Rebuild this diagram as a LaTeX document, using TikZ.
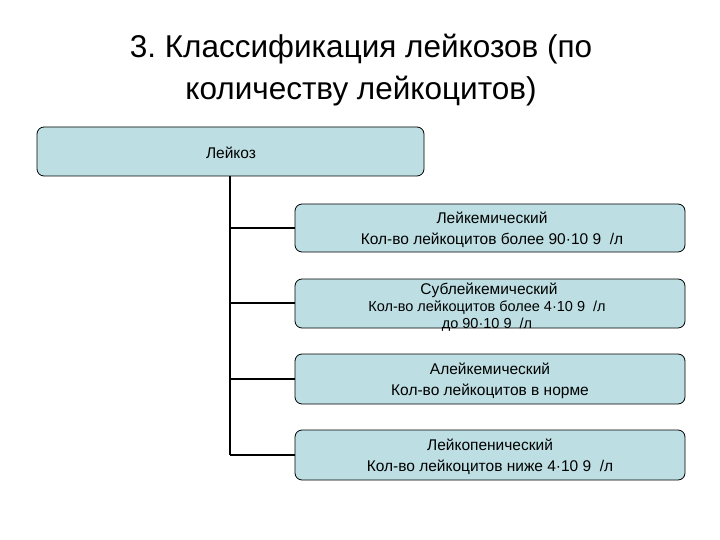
\documentclass[tikz,border=0pt]{standalone}
\usepackage{fontspec}
\setmainfont{Liberation Sans}
\frenchspacing
\begin{document}
\begin{tikzpicture}[x=1pt,y=-1pt,
  box/.style={draw=black,line width=0.8pt,fill=boxfill,rounded corners=7pt,inner sep=0pt},
  conn/.style={line width=1.6pt,black},
  lbl/.style={align=center,font=\fontsize{15.5}{21}\selectfont,inner sep=0pt}]
\definecolor{boxfill}{HTML}{BDDFE3}
\useasboundingbox (0,0) rectangle (720,540);
\node[font=\fontsize{31.5}{42}\selectfont,align=center,inner sep=0pt] (title) at (361,70)
  {3. Классификация лейкозов (по\\количеству лейкоцитов)};
\node[box,minimum width=387pt,minimum height=49pt] (top) at (230.5,151.5) {};
\node[lbl] (toptext) at (231,153) {Лейкоз};
\node[box,minimum width=390pt,minimum height=48pt] (b1) at (490,228) {};
\node[box,minimum width=390pt,minimum height=49pt] (b2) at (490,303.5) {};
\node[box,minimum width=390pt,minimum height=50pt] (b3) at (490,379) {};
\node[box,minimum width=390pt,minimum height=50pt] (b4) at (490,455) {};
\node[lbl] (t1) at (492,230) {Лейкемический\\Кол-во лейкоцитов более 90·10 9~~/л};
\node[lbl] (t2a) at (489,290) {Сублейкемический};
\node[align=center,font=\fontsize{14.5}{17}\selectfont,inner sep=0pt] (t2b) at (487,316)
  {Кол-во лейкоцитов более 4·10 9~~/л\\до 90·10 9~~/л};
\node[lbl] (t3) at (490,381) {Алейкемический\\Кол-во лейкоцитов в норме};
\node[lbl] (t4) at (490,457) {Лейкопенический\\Кол-во лейкоцитов ниже 4·10 9~~/л};
\coordinate (c1) at (230,228);
\coordinate (c2) at (230,303);
\coordinate (c3) at (230,379);
\coordinate (c4) at (230,455);
\draw[conn] (top.south -| c1) -- (c4);
\draw[conn] (c1) -- (b1.west);
\draw[conn] (c2) -- (c2 -| b2.west);
\draw[conn] (c3) -- (b3.west);
\draw[conn] (c4) -- (b4.west);
\end{tikzpicture}
\end{document}
